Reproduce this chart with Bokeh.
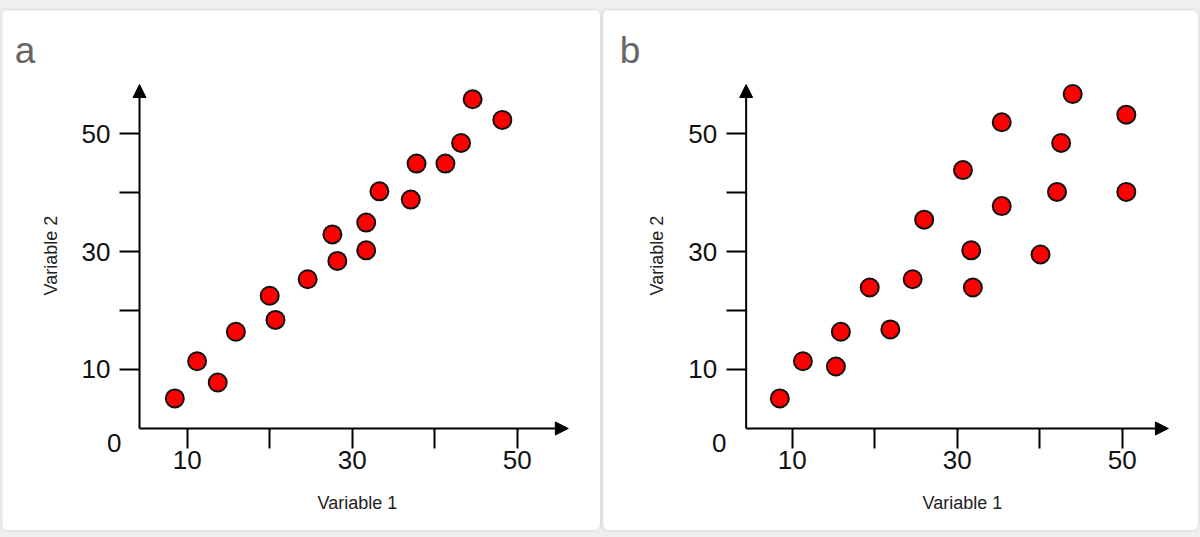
from bokeh.plotting import figure
from bokeh.layouts import row
from bokeh.models import Range1d, FixedTicker, Arrow, NormalHead, Label, LinearAxis
from bokeh.embed import file_html
from bokeh.resources import INLINE
import math

# Panel a data
a_var1 = [8.5, 11.2, 13.7, 15.9, 20.0, 20.7, 24.6, 27.6, 28.2, 31.7, 31.7, 33.3, 37.1, 37.8, 41.3, 43.2, 44.6, 48.2]
a_var2 = [5.1, 11.4, 7.8, 16.4, 22.5, 18.4, 25.3, 32.9, 28.4, 30.2, 34.9, 40.2, 38.8, 44.9, 44.9, 48.4, 55.8, 52.3]

# Panel b data
b_var1 = [8.5, 11.3, 15.3, 15.9, 19.4, 21.9, 24.6, 26.0, 30.7, 31.7, 31.9, 35.4, 35.4, 40.1, 42.1, 42.6, 44.0, 50.5, 50.5]
b_var2 = [5.1, 11.4, 10.5, 16.4, 23.9, 16.8, 25.3, 35.4, 43.8, 30.2, 23.9, 51.9, 37.7, 29.5, 40.1, 48.4, 56.7, 53.2, 40.1]

ticks = [10, 20, 30, 40, 50]
tick_labels = {10: "10", 20: "", 30: "30", 40: "", 50: "50"}
panel_names = ["a", "b"]
x_title = "Variable 1"
y_title = "Variable 2"

FONT = "Liberation Sans"


def make_panel(xs, ys, name, width, view_x, axis_x, ylab_x, margin):
    x0, x1 = axis_x
    y_top = 58.3
    p = figure(width=width, height=520, output_backend="svg", toolbar_location=None,
               x_range=Range1d(*view_x), y_range=Range1d(-17.29, 70.85),
               x_axis_location=None, y_axis_location=None,
               min_border=0, min_border_left=0, min_border_right=0,
               min_border_top=0, min_border_bottom=0,
               background_fill_color="white", border_fill_color="white",
               outline_line_color=None, margin=margin,
               styles={"border-radius": "6px", "box-shadow": "0 0 4px rgba(0,0,0,0.12)",
                       "overflow": "hidden"})
    p.grid.visible = False

    xaxis = LinearAxis(fixed_location=0)
    yaxis = LinearAxis(fixed_location=x0)
    for ax in (xaxis, yaxis):
        ax.ticker = FixedTicker(ticks=ticks, minor_ticks=[])
        ax.major_label_overrides = tick_labels
        ax.major_tick_in = 0
        ax.major_tick_out = 20
        ax.minor_tick_out = 0
        ax.major_tick_line_width = 2
        ax.major_tick_line_color = "black"
        ax.axis_line_color = None
        ax.major_label_text_font = FONT
        ax.major_label_text_font_size = "26px"
        ax.major_label_text_color = "#111111"
    xaxis.major_label_standoff = 3
    yaxis.major_label_standoff = 9
    p.add_layout(xaxis, "below")
    p.add_layout(yaxis, "left")

    p.add_layout(Arrow(end=NormalHead(size=13, fill_color="black", line_color="black", line_width=1),
                       x_start=x0, y_start=0, x_end=x1, y_end=0, line_width=2, line_color="black"))
    p.add_layout(Arrow(end=NormalHead(size=13, fill_color="black", line_color="black", line_width=1),
                       x_start=x0, y_start=0, x_end=x0, y_end=y_top, line_width=2, line_color="black"))

    p.scatter(xs, ys, size=18, fill_color="#ff0000", line_color="#111111", line_width=2)

    # axis titles
    p.add_layout(Label(x=30.64, y=-12.6, text=x_title, text_font=FONT, text_font_size="18px",
                       text_color="#222222", text_align="center", text_baseline="middle"))
    p.add_layout(Label(x=ylab_x, y=29.3, text=y_title, text_font=FONT, text_font_size="18px",
                       text_color="#222222", text_align="center", text_baseline="middle",
                       angle=math.pi / 2))

    p.add_layout(Label(x=1.15, y=-2.5, text="0", text_font=FONT, text_font_size="26px",
                       text_color="#111111", text_align="center", text_baseline="middle"))
    p.add_layout(Label(x=-10.9, y=64.0, text=name, text_font=FONT, text_font_size="37px",
                       text_color="#666666", text_align="left", text_baseline="middle"))
    return p


pa = make_panel(a_var1, a_var2, panel_names[0], 598, (-12.39, 60.10), (4.22, 56.2), -6.57, (10, 0, 7, 2))
pb = make_panel(b_var1, b_var2, panel_names[1], 595, (-12.87, 59.25), (4.42, 55.6), -6.33, (10, 2, 7, 0))

layout = row(pa, pb, spacing=3, styles={"background-color": "#efefef"})

open("out.html", "w").write(file_html(layout, INLINE))
